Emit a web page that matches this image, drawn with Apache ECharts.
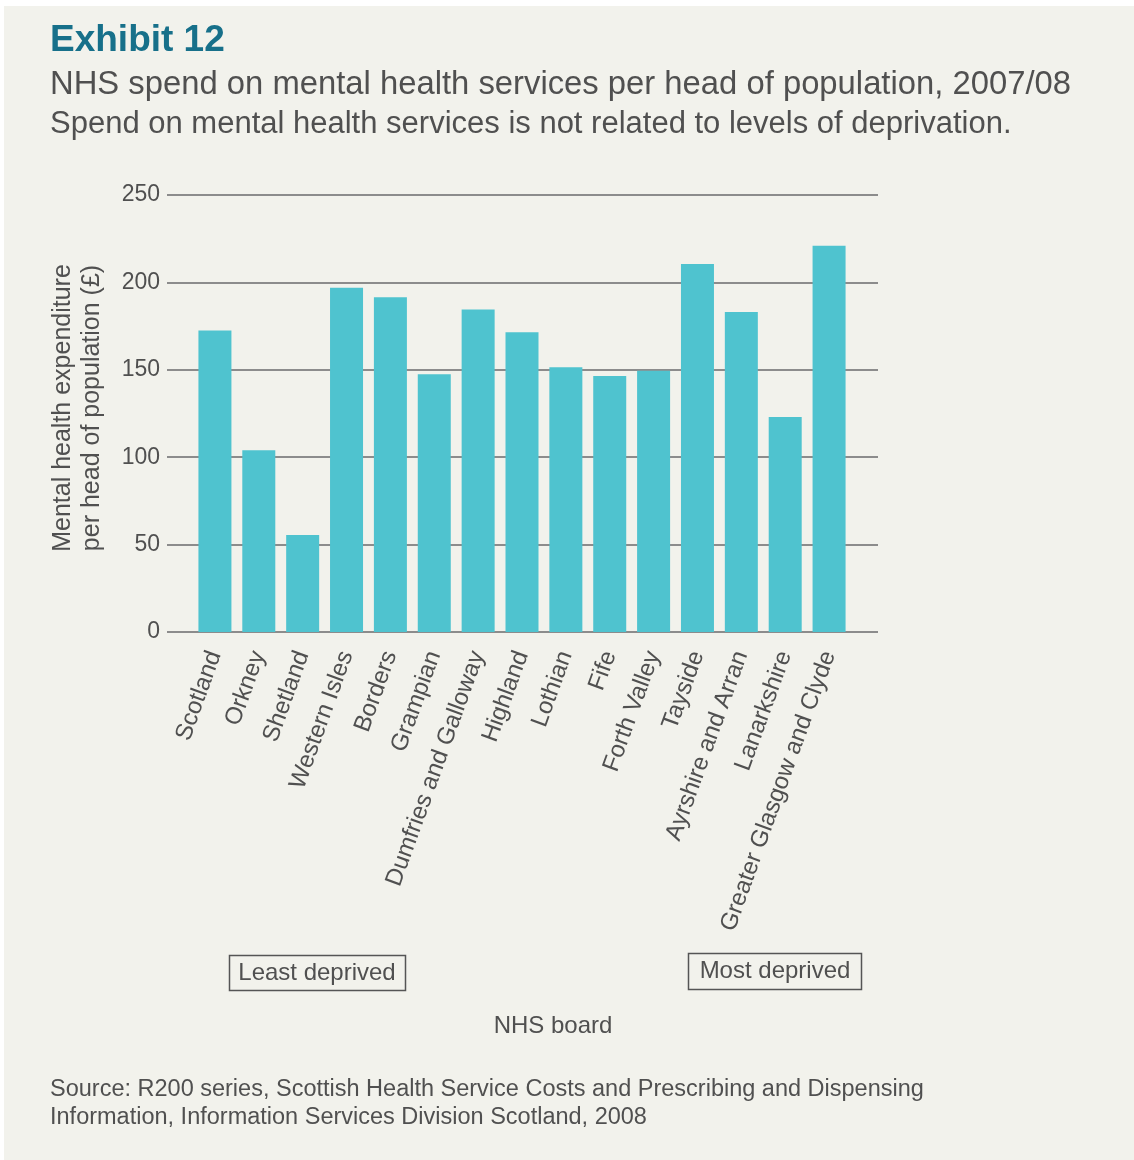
<!DOCTYPE html>
<html>
<head>
<meta charset="utf-8">
<title>NHS spend on mental health services per head of population, 2007/08</title>
<script src="https://cdn.jsdelivr.net/npm/echarts@6/dist/echarts.min.js"></script>
<style>
  html, body { margin: 0; padding: 0; background: #ffffff; }
  #chart { width: 1134px; height: 1160px; }
</style>
</head>
<body>
<div id="chart"></div>
<script>
// NHS boards, ordered from least to most deprived
const boards = [
  'Scotland', 'Orkney', 'Shetland', 'Western Isles', 'Borders', 'Grampian',
  'Dumfries and Galloway', 'Highland', 'Lothian', 'Fife', 'Forth Valley',
  'Tayside', 'Ayrshire and Arran', 'Lanarkshire', 'Greater Glasgow and Clyde'
];
// Mental health expenditure per head of population (£)
const spendPerHead = [172.5, 104, 55.5, 197, 191.5, 147.5, 184.5, 171.5, 151.5, 146.5, 149.5, 210.5, 183, 123, 221];
// Value axis range
const axisMin = 0;
const axisMax = 250;
const axisStep = 50;

const FONT = '"Liberation Sans", Arial, sans-serif';
const GREY = '#505050';

const chart = echarts.init(document.getElementById('chart'), null, { renderer: 'canvas' });

chart.setOption({
  backgroundColor: '#ffffff',
  animation: false,
  textStyle: { fontFamily: FONT },
  grid: [
    // frame for the horizontal rules and value labels
    { left: 167, right: 256, top: 195, bottom: 528, containLabel: false },
    // frame for the bars
    { left: 193, right: 283, top: 195, bottom: 528, containLabel: false }
  ],
  xAxis: [
    { gridIndex: 0, type: 'value', show: false, min: 0, max: 1 },
    {
      gridIndex: 1,
      type: 'category',
      data: boards,
      axisLine: { show: false },
      axisTick: { show: false },
      axisLabel: {
        rotate: 70,
        margin: 20,
        interval: 0,
        color: GREY,
        fontSize: 24,
        fontFamily: FONT
      }
    }
  ],
  yAxis: [
    {
      gridIndex: 0,
      type: 'value',
      min: axisMin,
      max: axisMax,
      interval: axisStep,
      axisLine: { show: false },
      axisTick: { show: false },
      axisLabel: { color: GREY, fontSize: 23, margin: 7, fontFamily: FONT },
      splitLine: { lineStyle: { color: '#8c8c8c', width: 2 } }
    },
    {
      gridIndex: 1,
      type: 'value',
      min: axisMin,
      max: axisMax,
      interval: axisStep,
      show: false,
      splitLine: { show: false }
    }
  ],
  series: [{
    type: 'bar',
    xAxisIndex: 1,
    yAxisIndex: 1,
    data: spendPerHead,
    barWidth: 33,
    itemStyle: { color: '#4fc3cf' },
    silent: true
  }],
  graphic: [
    // panel
    { type: 'rect', z: -10, silent: true,
      shape: { x: 4, y: 6, width: 1130, height: 1154 },
      style: { fill: '#f2f2ec' } },
    // heading
    { type: 'text', x: 50, y: 41,
      style: { text: 'Exhibit 12', fill: '#17708a', font: 'bold 37px ' + FONT, verticalAlign: 'middle' } },
    { type: 'text', x: 50, y: 85,
      style: { text: 'NHS spend on mental health services per head of population, 2007/08', fill: GREY, font: '32.8px ' + FONT, verticalAlign: 'middle' } },
    { type: 'text', x: 50, y: 124,
      style: { text: 'Spend on mental health services is not related to levels of deprivation.', fill: GREY, font: '31px ' + FONT, verticalAlign: 'middle' } },
    // value axis title
    { type: 'text', x: 63, y: 408, rotation: Math.PI / 2,
      style: { text: 'Mental health expenditure', fill: GREY, font: '25px ' + FONT, align: 'center', verticalAlign: 'middle' } },
    { type: 'text', x: 92, y: 408, rotation: Math.PI / 2,
      style: { text: 'per head of population (£)', fill: GREY, font: '25px ' + FONT, align: 'center', verticalAlign: 'middle' } },
    // deprivation markers
    { type: 'rect', silent: true,
      shape: { x: 229.5, y: 955.5, width: 176, height: 35 },
      style: { fill: 'none', stroke: '#555555', lineWidth: 1.5 } },
    { type: 'text', x: 317, y: 973,
      style: { text: 'Least deprived', fill: GREY, font: '24px ' + FONT, align: 'center', verticalAlign: 'middle' } },
    { type: 'rect', silent: true,
      shape: { x: 688.5, y: 953.5, width: 173, height: 36 },
      style: { fill: 'none', stroke: '#555555', lineWidth: 1.5 } },
    { type: 'text', x: 775, y: 971,
      style: { text: 'Most deprived', fill: GREY, font: '24px ' + FONT, align: 'center', verticalAlign: 'middle' } },
    // category axis title
    { type: 'text', x: 553, y: 1026,
      style: { text: 'NHS board', fill: GREY, font: '24px ' + FONT, align: 'center', verticalAlign: 'middle' } },
    // source note
    { type: 'text', x: 50, y: 1090,
      style: { text: 'Source: R200 series, Scottish Health Service Costs and Prescribing and Dispensing', fill: GREY, font: '23.5px ' + FONT, align: 'left', verticalAlign: 'middle' } },
    { type: 'text', x: 50, y: 1118,
      style: { text: 'Information, Information Services Division Scotland, 2008', fill: GREY, font: '23.5px ' + FONT, align: 'left', verticalAlign: 'middle' } }
  ]
});
</script>
</body>
</html>
